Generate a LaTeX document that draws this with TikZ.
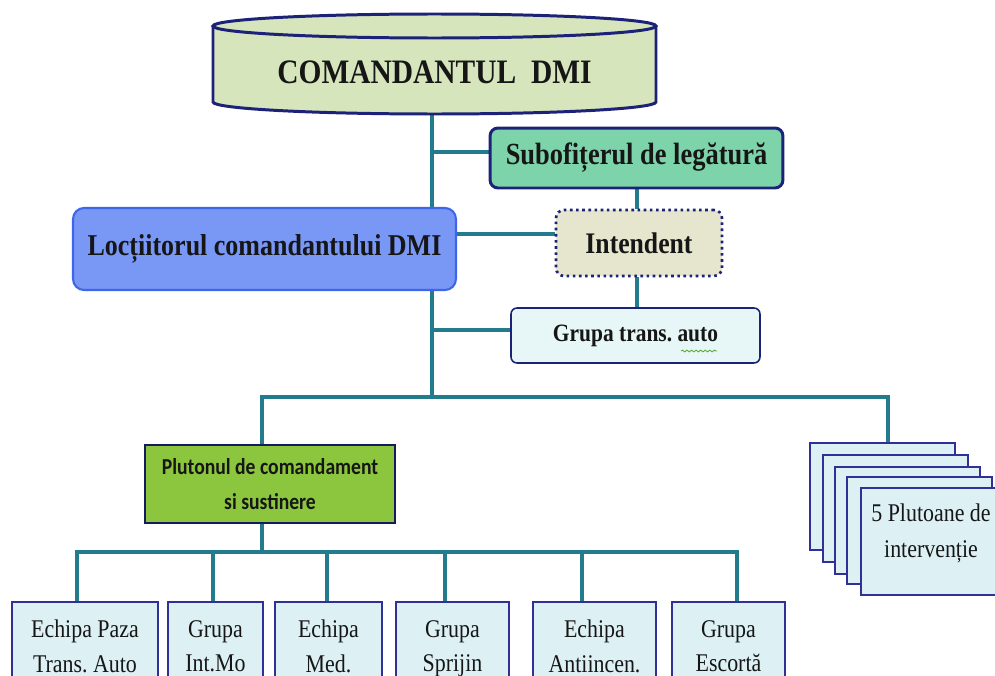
\documentclass[tikz,border=0pt]{standalone}
\usepackage{fontspec}
\setmainfont{Liberation Serif}
\newfontfamily\serifc{Liberation Serif}[FakeStretch=0.86]
\newfontfamily\sansc{Carlito}[FakeStretch=0.86]
\usetikzlibrary{backgrounds,decorations.pathmorphing}
\frenchspacing

\definecolor{linkteal}{RGB}{35,123,142}
\definecolor{navy}{RGB}{28,34,120}
\definecolor{cylfill}{RGB}{214,229,188}
\definecolor{subfill}{RGB}{126,212,170}
\definecolor{locfill}{RGB}{121,151,245}
\definecolor{locline}{RGB}{62,102,232}
\definecolor{intfill}{RGB}{230,230,206}
\definecolor{gtafill}{RGB}{231,247,247}
\definecolor{plufill}{RGB}{140,198,63}
\definecolor{cellfill}{RGB}{221,241,245}
\definecolor{cellline}{RGB}{48,48,150}
\definecolor{txt}{RGB}{22,22,22}
\definecolor{spell}{RGB}{90,170,60}

\begin{document}
\begin{tikzpicture}[x=0.02cm, y=-0.02cm,
  base/.style={rectangle, inner sep=0pt, align=center, text=txt},
  link/.style={draw=linkteal, line width=2.8pt},
  subbox/.style={base, fill=subfill, draw=navy, line width=1.7pt, rounded corners=0.16cm,
    minimum width=5.86cm, minimum height=1.2cm,
    font=\serifc\bfseries\fontsize{17.5}{20}\selectfont},
  locbox/.style={base, fill=locfill, draw=locline, line width=1.2pt, rounded corners=0.22cm,
    minimum width=7.66cm, minimum height=1.64cm,
    font=\serifc\bfseries\fontsize{17.2}{20}\selectfont},
  intbox/.style={base, fill=intfill, draw=navy, line width=1.5pt, dotted, rounded corners=0.16cm,
    minimum width=3.32cm, minimum height=1.32cm,
    font=\serifc\bfseries\fontsize{17}{20}\selectfont},
  gtabox/.style={base, fill=gtafill, draw=navy, line width=0.9pt, rounded corners=0.12cm,
    minimum width=4.98cm, minimum height=1.1cm,
    font=\serifc\bfseries\fontsize{14.2}{17}\selectfont},
  plubox/.style={base, fill=plufill, draw=navy!80!black, line width=0.9pt,
    minimum width=5cm, minimum height=1.56cm,
    font=\sansc\bfseries\fontsize{13}{19.8}\selectfont},
  cell/.style={base, fill=cellfill, draw=cellline, line width=0.9pt, anchor=north,
    minimum height=1.98cm, execute at end node=\strut,
    font=\serifc\fontsize{14.5}{19.8}\selectfont},
  stackbox/.style={base, fill=cellfill, draw=cellline, line width=0.9pt,
    minimum width=2.9cm, minimum height=2.14cm}
]
\useasboundingbox (0,0) rectangle (995,676);
\clip (0,0) rectangle (995,676);

% commander: a flat cylinder
\fill[cylfill] (213,26) -- (213,102)
  arc[start angle=180, end angle=0, x radius=221.5, y radius=12] -- (656,26) -- cycle;
\draw[navy, line width=1.7pt] (213,26) -- (213,102)
  arc[start angle=180, end angle=0, x radius=221.5, y radius=12] -- (656,26);
\filldraw[fill=cylfill, draw=navy, line width=1.7pt] (434.5,26) ellipse[x radius=221.5, y radius=12];
\node[base, minimum width=8.86cm, minimum height=1.68cm,
  font=\serifc\bfseries\fontsize{19.5}{23}\selectfont] (cmd) at (434.5,72) {COMANDANTUL~~DMI};

% staff
\node[subbox] (sub) at (636.5,158) {Subofițerul de legătură};
\node[locbox] (loc) at (264.5,249) {Locțiitorul comandantului DMI};
\node[intbox] (int) at (639,243) {\textcolor{txt}{Intendent}};
\node[gtabox] (gta) at (635.5,335.5) {Grupa trans. auto};
\draw[spell, line width=0.5pt, decorate, decoration={snake, amplitude=0.5pt, segment length=2.6pt}]
  (681,351) -- (717,351);

% support platoon and its teams
\node[plubox] (plu) at (270,484) {Plutonul de comandament\\si sustinere};
\node[cell, minimum width=2.92cm] (c1) at (85,601) {Echipa Paza\\Trans. Auto};
\node[cell, minimum width=1.9cm] (c2) at (215.5,601) {Grupa\\Int.Mo};
\node[cell, minimum width=2.14cm] (c3) at (328.5,601) {Echipa\\Med.};
\node[cell, minimum width=2.26cm] (c4) at (452.5,601) {Grupa\\Sprijin};
\node[cell, minimum width=2.46cm] (c5) at (594.5,601) {Echipa\\Antiincen.};
\node[cell, minimum width=2.26cm] (c6) at (728.5,601) {Grupa\\Escortă};

% stacked intervention platoons
\node[stackbox] (p1) at (882.5,496.5) {};
\node[stackbox] (p2) at (895.5,508.5) {};
\node[stackbox] (p3) at (907.5,520.5) {};
\node[stackbox] (p4) at (919.5,530.5) {};
\node[stackbox] (p5) at (933.5,541.5) {};
\node[base, font=\serifc\fontsize{14.5}{20.4}\selectfont] (p5t) at (931,533) {5 Plutoane de\\intervenție};

% junction points of the connectors
\coordinate (tt) at (432,114);
\coordinate (tb) at (432,397);
\coordinate (barL) at (262,397);
\coordinate (barR) at (888,397);
\coordinate (bar2L) at (77,552);
\coordinate (bar2R) at (737,552);
\coordinate (ysub) at (0,152);
\coordinate (yint) at (0,234);
\coordinate (ygta) at (0,330);

\begin{pgfonlayer}{background}
  \draw[link] (tt) -- (tb);
  \draw[link] (tt |- ysub) -- (sub.west |- ysub);
  \draw[link] (loc.east |- yint) -- (int.west |- yint);
  \draw[link] (tt |- ygta) -- (gta.west |- ygta);
  \draw[link] (sub.south -| 637,0) -- (int.north -| 637,0);
  \draw[link] (int.south -| 637,0) -- (gta.north -| 637,0);
  \draw[link] (plu.north -| barL) -- (barL) -- (barR) -- (p1.north -| barR);
  \draw[link] (plu.south -| barL) -- (barL |- bar2L);
  \draw[link] (c1.north -| bar2L) -- (bar2L) -- (bar2R) -- (c6.north -| bar2R);
  \draw[link] (c2.north -| 213,0) -- (213,552);
  \draw[link] (c3.north -| 327,0) -- (327,552);
  \draw[link] (c4.north -| 445,0) -- (445,552);
  \draw[link] (c5.north -| 582,0) -- (582,552);
\end{pgfonlayer}
\end{tikzpicture}
\end{document}
